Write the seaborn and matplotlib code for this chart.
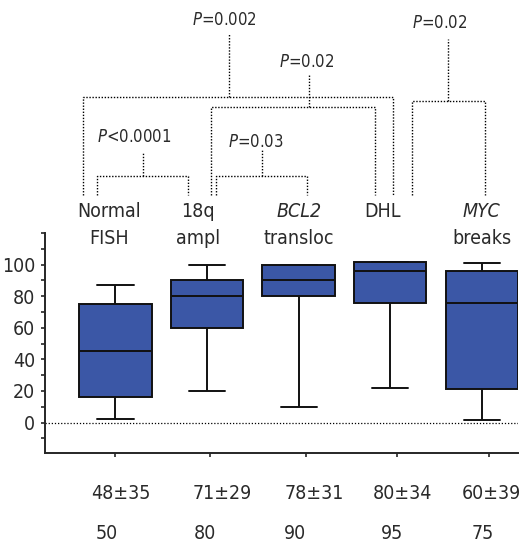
import numpy as np
import pandas as pd
import matplotlib
matplotlib.use("Agg")
import matplotlib.pyplot as plt
import seaborn as sns
from matplotlib import font_manager

# five-number summaries (min, q1, median, q3, max)
groups = ["Normal\nFISH", "18q\nampl", "BCL2\ntransloc", "DHL", "MYC\nbreaks"]
normal_fish = [2.5, 16, 45.5, 75.3, 87.3]
ampl_18q = [20, 60, 80, 90, 100]
bcl2_transloc = [10, 80, 90, 100, 100]
dhl = [22, 75.6, 96, 101.5, 101.5]
myc_breaks = [1.3, 21.3, 75.6, 96, 101.3]

mean_sd = ["48±35", "71±29", "78±31", "80±34", "60±39"]
medians = ["50", "80", "90", "95", "75"]

# bracket tests: (left leg, right leg, stem x, bar height, stem top, label x, label y, label)
brackets = [
    (-0.205, 0.795, 0.303, 156.3, 171.5, 0.20, 181.0, "<0.0001"),
    (1.097, 2.087, 1.596, 156.3, 172.6, 1.528, 177.8, "=0.03"),
    (1.039, 2.833, 2.112, 199.8, 220.0, 2.083, 228.5, "=0.02"),
    (-0.358, 3.030, 1.236, 206.1, 246.6, 1.192, 255.0, "=0.002"),
    (3.233, 4.034, 3.627, 203.6, 242.7, 3.540, 253.2, "=0.02"),
]

df = pd.DataFrame({
    "group": np.repeat(groups, 5),
    "value": normal_fish + ampl_18q + bcl2_transloc + dhl + myc_breaks,
})

sns.set_style("ticks")

# look for a narrow/condensed face
fontfile = None
for f in font_manager.fontManager.ttflist:
    n = f.fname.lower()
    if ("narrow" in n or "condensed" in n) and "bold" not in n and "italic" not in n and "oblique" not in n:
        fontfile = f
        break
if fontfile is not None:
    plt.rcParams["font.family"] = [fontfile.name, "DejaVu Sans"]
    plt.rcParams["font.stretch"] = fontfile.stretch
    plt.rcParams["mathtext.fontset"] = "custom"
    plt.rcParams["mathtext.it"] = fontfile.name + ":italic"
    plt.rcParams["mathtext.rm"] = fontfile.name
else:
    plt.rcParams["font.family"] = ["DejaVu Sans"]
txt_col = "#2a2a2a"

fig = plt.figure(figsize=(5.2, 5.45), dpi=100)
ax = fig.add_axes([0.0865, 0.1688, 0.9095, 0.4037])

sns.boxplot(data=df, x="group", y="value", order=groups, whis=(0, 100),
            color="#3B57A6", saturation=1, width=0.79, linewidth=1.4,
            linecolor="#111111", showfliers=False, ax=ax)

ax.set_xlim(-0.77, 4.394)
ax.set_ylim(-19.3, 120)
ax.axhline(0, color="black", lw=0.9, ls=(0, (1, 1.5)), zorder=0)

ax.set_yticks([0, 20, 40, 60, 80, 100])
ax.set_yticks(np.arange(-10, 121, 10), minor=True)
ax.tick_params(axis="y", which="both", length=3, width=1.2, labelsize=14, pad=4,
               labelcolor=txt_col)
ax.set_xticks([0.0, 1.03, 2.08, 3.07, 4.08])
ax.set_xticklabels([])
ax.tick_params(axis="x", length=3, width=1.2)
ax.set_xlabel("")
ax.set_ylabel("")
for s in ["top", "right"]:
    ax.spines[s].set_visible(False)
ax.spines["left"].set_linewidth(1.4)
ax.spines["bottom"].set_linewidth(1.4)

# group labels above the boxes
label_x = [-0.075, 0.90, 2.0, 2.92, 4.0]
for i, g in enumerate(groups):
    lines = g.split("\n")
    first_style = "italic" if lines[0] in ("BCL2", "MYC") else "normal"
    ax.text(label_x[i], 133.5, lines[0], ha="center", va="center", fontsize=14,
            style=first_style, color=txt_col, clip_on=False)
    if len(lines) > 1:
        ax.text(label_x[i], 116.7, lines[1], ha="center", va="center", fontsize=14,
                color=txt_col, clip_on=False)

# mean±SD and median rows under the axis
row1_x = [0.06, 1.163, 2.167, 3.137, 4.109]
row2_x = [-0.093, 0.977, 1.959, 3.018, 4.012]
for i in range(5):
    ax.text(row1_x[i], -44.7, mean_sd[i], ha="center", va="center", fontsize=14,
            color=txt_col, clip_on=False)
    ax.text(row2_x[i], -70.0, medians[i], ha="center", va="center", fontsize=14,
            color=txt_col, clip_on=False)

# dotted brackets with P values
dot = dict(color="black", lw=1.0, ls=(0, (1, 1.2)), clip_on=False)
leg_bottom = 144
for l, r, sx, bar, top, lx, ly, txt in brackets:
    ax.plot([l, l, r, r], [leg_bottom, bar, bar, leg_bottom], **dot)
    ax.plot([sx, sx], [bar, top], **dot)
    ax.text(lx, ly, "$\\it{P}$" + txt, ha="center", va="center", fontsize=12,
            color=txt_col, clip_on=False)

fig.savefig("out.png", dpi=100)
